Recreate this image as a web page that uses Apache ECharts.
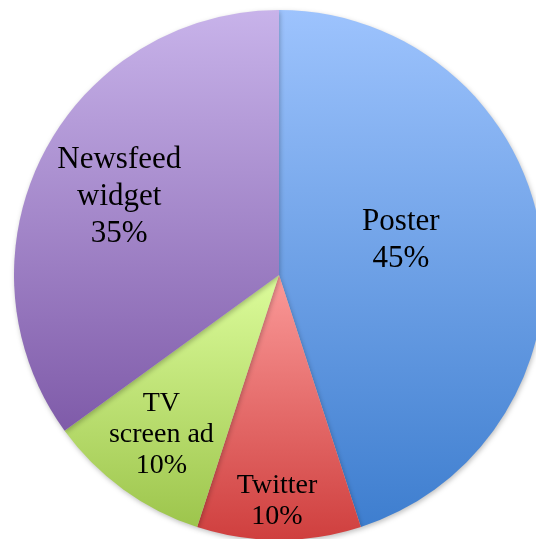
<!DOCTYPE html>
<html><head><meta charset="utf-8">
<script src="https://cdn.jsdelivr.net/npm/echarts@6/dist/echarts.min.js"></script>
<style>html,body{margin:0;padding:0;background:#fff}#c{width:536px;height:539px}</style>
</head><body><div id="c"></div>
<script>
const categories = ['Poster', 'Twitter', 'TV\nscreen ad', 'Newsfeed\nwidget'];
const values = [45, 10, 10, 35];
const topColors = ['#9dc3fd', '#fb9a99', '#dcfc9b', '#c8b3ea'];
const bottomColors = ['#3e7ecf', '#cf3f3e', '#9dc54c', '#7f5ba9'];
const labelSizes = [31, 28, 28, 31];
const labelLines = [37, 31, 31, 37];
const labelOffsets = [[-12, -13], [-2, 91], [-38, 50], [-39, -17]];

const chart = echarts.init(document.getElementById('c'), null, {renderer: 'canvas'});
const data = categories.map((name, i) => ({
  name: name,
  value: values[i],
  itemStyle: {
    color: new echarts.graphic.LinearGradient(0, 0, 0, 1, [
      {offset: 0, color: topColors[i]},
      {offset: 1, color: bottomColors[i]}
    ])
  },
  label: {
    fontSize: labelSizes[i],
    lineHeight: labelLines[i],
    offset: labelOffsets[i]
  }
}));
chart.setOption({
  animation: false,
  series: [{
    type: 'pie',
    center: [279, 275],
    radius: [0, 265],
    startAngle: 90,
    clockwise: true,
    avoidLabelOverlap: false,
    data: data,
    itemStyle: {
      borderWidth: 0,
      shadowBlur: 5,
      shadowColor: 'rgba(0,0,0,0.25)',
      shadowOffsetX: 1,
      shadowOffsetY: 2
    },
    label: {
      show: true,
      position: 'inside',
      formatter: '{b}\n{d}%',
      color: '#000',
      fontFamily: 'Liberation Serif',
      align: 'center'
    },
    labelLine: {show: false},
    emphasis: {disabled: true}
  }]
});
</script></body></html>
